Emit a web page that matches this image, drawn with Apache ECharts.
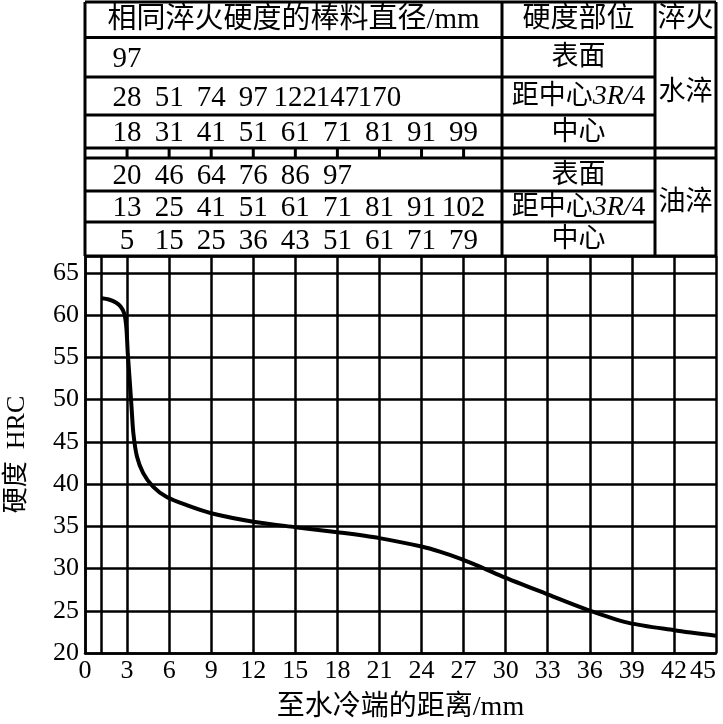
<!DOCTYPE html>
<html>
<head>
<meta charset="utf-8">
<title>端淬曲线</title>
<script src="https://cdn.jsdelivr.net/npm/echarts@6/dist/echarts.min.js"></script>
<style>
  html, body { margin: 0; padding: 0; background: #fff; }
  #chart { width: 723px; height: 724px; }
</style>
</head>
<body>
<div id="chart"></div>
<script>
// 端淬曲线：至水冷端的距离(mm) - 硬度(HRC)
const curve = [
  [1.2, 62.0], [1.7, 61.85], [2.2, 61.5], [2.55, 61.0], [2.8, 60.2],
  [2.95, 58.5], [3.05, 55.5], [3.2, 52.0], [3.33, 48.8], [3.45, 46.0],
  [3.7, 43.3], [4.15, 41.3], [4.85, 39.7], [5.8, 38.5], [7.25, 37.5],
  [9.0, 36.55], [12.0, 35.55], [15.0, 34.9], [18.0, 34.3], [21.0, 33.6],
  [24.0, 32.6], [25.3, 32.0], [26.8, 31.15], [28.2, 30.2], [29.7, 29.1],
  [32.9, 27.0], [35.7, 25.2], [38.7, 23.6], [42.0, 22.7], [45.0, 22.05]
];
const extraGridX = [1.15];

// 相同淬火硬度的棒料直径/mm，依次对应 3, 6, 9 ... mm 处
const waterSurface = [97];
const waterQuarter = [28, 51, 74, 97, 122, 147, 170];
const waterCenter = [18, 31, 41, 51, 61, 71, 81, 91, 99];
const oilSurface = [20, 46, 64, 76, 86, 97];
const oilQuarter = [13, 25, 41, 51, 61, 71, 81, 91, 102];
const oilCenter = [5, 15, 25, 36, 43, 51, 61, 71, 79];
const step = 3;

const serif = '"Liberation Serif", "Noto Sans CJK SC", serif';
const chart = echarts.init(document.getElementById('chart'));

const option = {
  animation: false,
  grid: { left: 85, right: 7, top: 256, bottom: 71, outerBoundsMode: 'none' },
  xAxis: {
    type: 'value',
    min: 0, max: 45, interval: 3,
    axisLine: { lineStyle: { color: '#000', width: 2.5 } },
    axisTick: { show: false },
    axisLabel: { color: '#000', fontSize: 26, fontFamily: serif, margin: 5, alignMaxLabel: 'right' },
    splitLine: { show: true, lineStyle: { color: '#000', width: 2.5 } },
    name: '至水冷端的距离/mm',
    nameLocation: 'middle',
    nameGap: 41,
    nameTextStyle: { color: '#000', fontSize: 28, fontFamily: serif }
  },
  yAxis: {
    type: 'value',
    min: 20, max: 67, interval: 5,
    axisLine: { show: true, lineStyle: { color: '#000', width: 2.5 } },
    axisTick: { show: false },
    axisLabel: { color: '#000', fontSize: 26, fontFamily: serif, margin: 6, showMaxLabel: false },
    splitLine: { show: true, lineStyle: { color: '#000', width: 2.5 } },
    name: '{c|硬度}　{e|HRC}',
    nameLocation: 'middle',
    nameGap: 55,
    nameTextStyle: {
      color: '#000',
      rich: {
        c: { fontSize: 26, fontFamily: serif, color: '#000' },
        e: { fontSize: 26, fontFamily: serif, color: '#000' }
      }
    }
  },
  series: [{
    type: 'line',
    data: curve,
    smooth: 0.3,
    symbol: 'none',
    lineStyle: { color: '#000', width: 4 },
    markLine: {
      silent: true,
      symbol: 'none',
      label: { show: false },
      lineStyle: { color: '#000', width: 2.5, type: 'solid' },
      data: extraGridX.map(v => ({ xAxis: v }))
    }
  }]
};
chart.setOption(option);

// 上方表格
function buildTable() {
  const L = 85, C1 = 502, C2 = 655, R = 716;
  const rowY = [2, 37.5, 77, 115, 148, 158, 191, 222, 256];
  const els = [];
  const line = (x1, y1, x2, y2) => els.push({
    type: 'line', silent: true,
    shape: { x1, y1, x2, y2 },
    style: { stroke: '#000', lineWidth: 3 }
  });
  const text = (x, y, str, size, rich) => els.push({
    type: 'text', silent: true, x, y,
    style: {
      text: str, fill: '#000', fontSize: size, fontFamily: serif,
      align: 'center', verticalAlign: 'middle',
      textAlign: 'center', textVerticalAlign: 'middle',
      rich: rich
    }
  });
  const px = v => chart.convertToPixel({ xAxisIndex: 0 }, v);

  // 横线
  line(L, rowY[0], R, rowY[0]);
  line(L, rowY[1], R, rowY[1]);
  line(L, rowY[2], C2, rowY[2]);
  line(L, rowY[3], C2, rowY[3]);
  line(L, rowY[4], R, rowY[4]);
  line(L, rowY[5], R, rowY[5]);
  line(L, rowY[6], C2, rowY[6]);
  line(L, rowY[7], C2, rowY[7]);
  line(L, rowY[8], R, rowY[8]);
  // 竖线
  [L, C1, C2, R].forEach(x => line(x, rowY[0], x, rowY[8]));
  // 分隔行刻度
  for (let i = 1; i <= 9; i++) {
    line(px(i * step), rowY[4], px(i * step), rowY[5]);
  }

  // 表头
  text((L + C1) / 2, 20, '相同淬火硬度的棒料直径/mm', 29);
  text((C1 + C2) / 2, 20, '硬度部位', 28);
  text((C2 + R) / 2, 20, '淬火', 28);

  const quarter = '距中心{i|3R/}4';
  const rich = { i: { fontStyle: 'italic', fontFamily: serif, fontSize: 28, fill: '#000' } };
  const rows = [
    [waterSurface, '表面', 1],
    [waterQuarter, quarter, 2],
    [waterCenter, '中心', 3],
    [oilSurface, '表面', 5],
    [oilQuarter, quarter, 6],
    [oilCenter, '中心', 7]
  ];
  rows.forEach(([vals, label, r]) => {
    const cy = (rowY[r] + rowY[r + 1]) / 2 + 1;
    vals.forEach((v, i) => text(px((i + 1) * step), cy + 1, String(v), 29));
    text((C1 + C2) / 2, cy, label, 27, rich);
  });
  text((C2 + R) / 2, (rowY[1] + rowY[4]) / 2, '水淬', 27);
  text((C2 + R) / 2, (rowY[5] + rowY[8]) / 2 - 4, '油淬', 27);
  return els;
}

chart.setOption({ graphic: { elements: buildTable() } });
</script>
</body>
</html>
